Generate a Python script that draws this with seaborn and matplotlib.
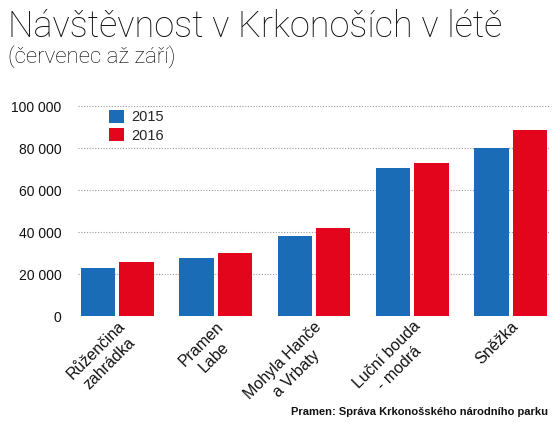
import pandas as pd
import seaborn as sns
import matplotlib.pyplot as plt

# visitors July-September
sites = ["Růženčina\nzahrádka", "Pramen\nLabe", "Mohyla Hanče\na Vrbaty",
         "Luční bouda\n- modrá", "Sněžka"]
visits_2015 = [23000, 27800, 38000, 70400, 80000]
visits_2016 = [25500, 30000, 41900, 73000, 88800]
years = ["2015", "2016"]
yticks = [0, 20000, 40000, 60000, 80000, 100000]

BLUE = "#1a6cb6"
RED = "#e3051b"

df = pd.DataFrame({
    "site": sites * 2,
    "year": [years[0]] * len(sites) + [years[1]] * len(sites),
    "visits": visits_2015 + visits_2016,
})

sns.set_style("white")
plt.rcParams['font.family'] = ['Liberation Sans', 'DejaVu Sans']
LIGHT = ['Roboto', 'DejaVu Sans']


def main():
    fig = plt.figure(figsize=(5.6, 4.3), dpi=100)
    ax = fig.add_axes([78 / 560, 1 - 316 / 430, (550 - 78) / 560, (316 - 106) / 430])

    sns.barplot(data=df, x="site", y="visits", hue="year", palette=[BLUE, RED],
                width=0.78, gap=0.1, saturation=1, errorbar=None, linewidth=0, ax=ax)

    ax.set_xlim(-0.4, 4.4)
    ax.set_ylim(0, 100000)
    ax.set_yticks(yticks)
    ax.set_yticklabels([f"{v:,}".replace(",", " ") for v in yticks])
    ax.set_xticks(range(len(sites)))
    ax.set_xticklabels(sites, rotation=45, ha='right', va='top',
                       rotation_mode='anchor', multialignment='center',
                       linespacing=1.3)
    ax.tick_params(axis='x', length=0, pad=2, labelsize=11.5, labelcolor='#111111')
    ax.tick_params(axis='y', length=0, pad=12, labelsize=10, labelcolor='#111111')
    ax.set_xlabel('')
    ax.set_ylabel('')
    for s in ax.spines.values():
        s.set_visible(False)
    ax.grid(axis='y', linestyle=(0, (1, 1.5)), color='#999999', linewidth=0.8)
    ax.set_axisbelow(True)

    ax.legend(loc='upper left', bbox_to_anchor=(21 / 472, 1.03), frameon=False,
              fontsize=10.5, handlelength=1.0, handleheight=1.0,
              labelspacing=0.25, handletextpad=0.5, borderpad=0.2)

    fig.text(8 / 560, 1 - 37 / 430, "Návštěvnost v Krkonoších v létě",
             fontsize=26, family=LIGHT, fontweight='light',
             color='#111111', va='baseline')
    fig.text(8 / 560, 1 - 63 / 430, "(červenec až září)", fontsize=16,
             family=LIGHT, fontweight='light', color='#000000', va='baseline')
    fig.text(548 / 560, 1 - 415 / 430, "Pramen: Správa Krkonošského národního parku",
             fontsize=8, fontweight='bold', color='#111111', ha='right', va='baseline')

    fig.savefig("out.png", dpi=100)


if __name__ == '__main__':
    main()
